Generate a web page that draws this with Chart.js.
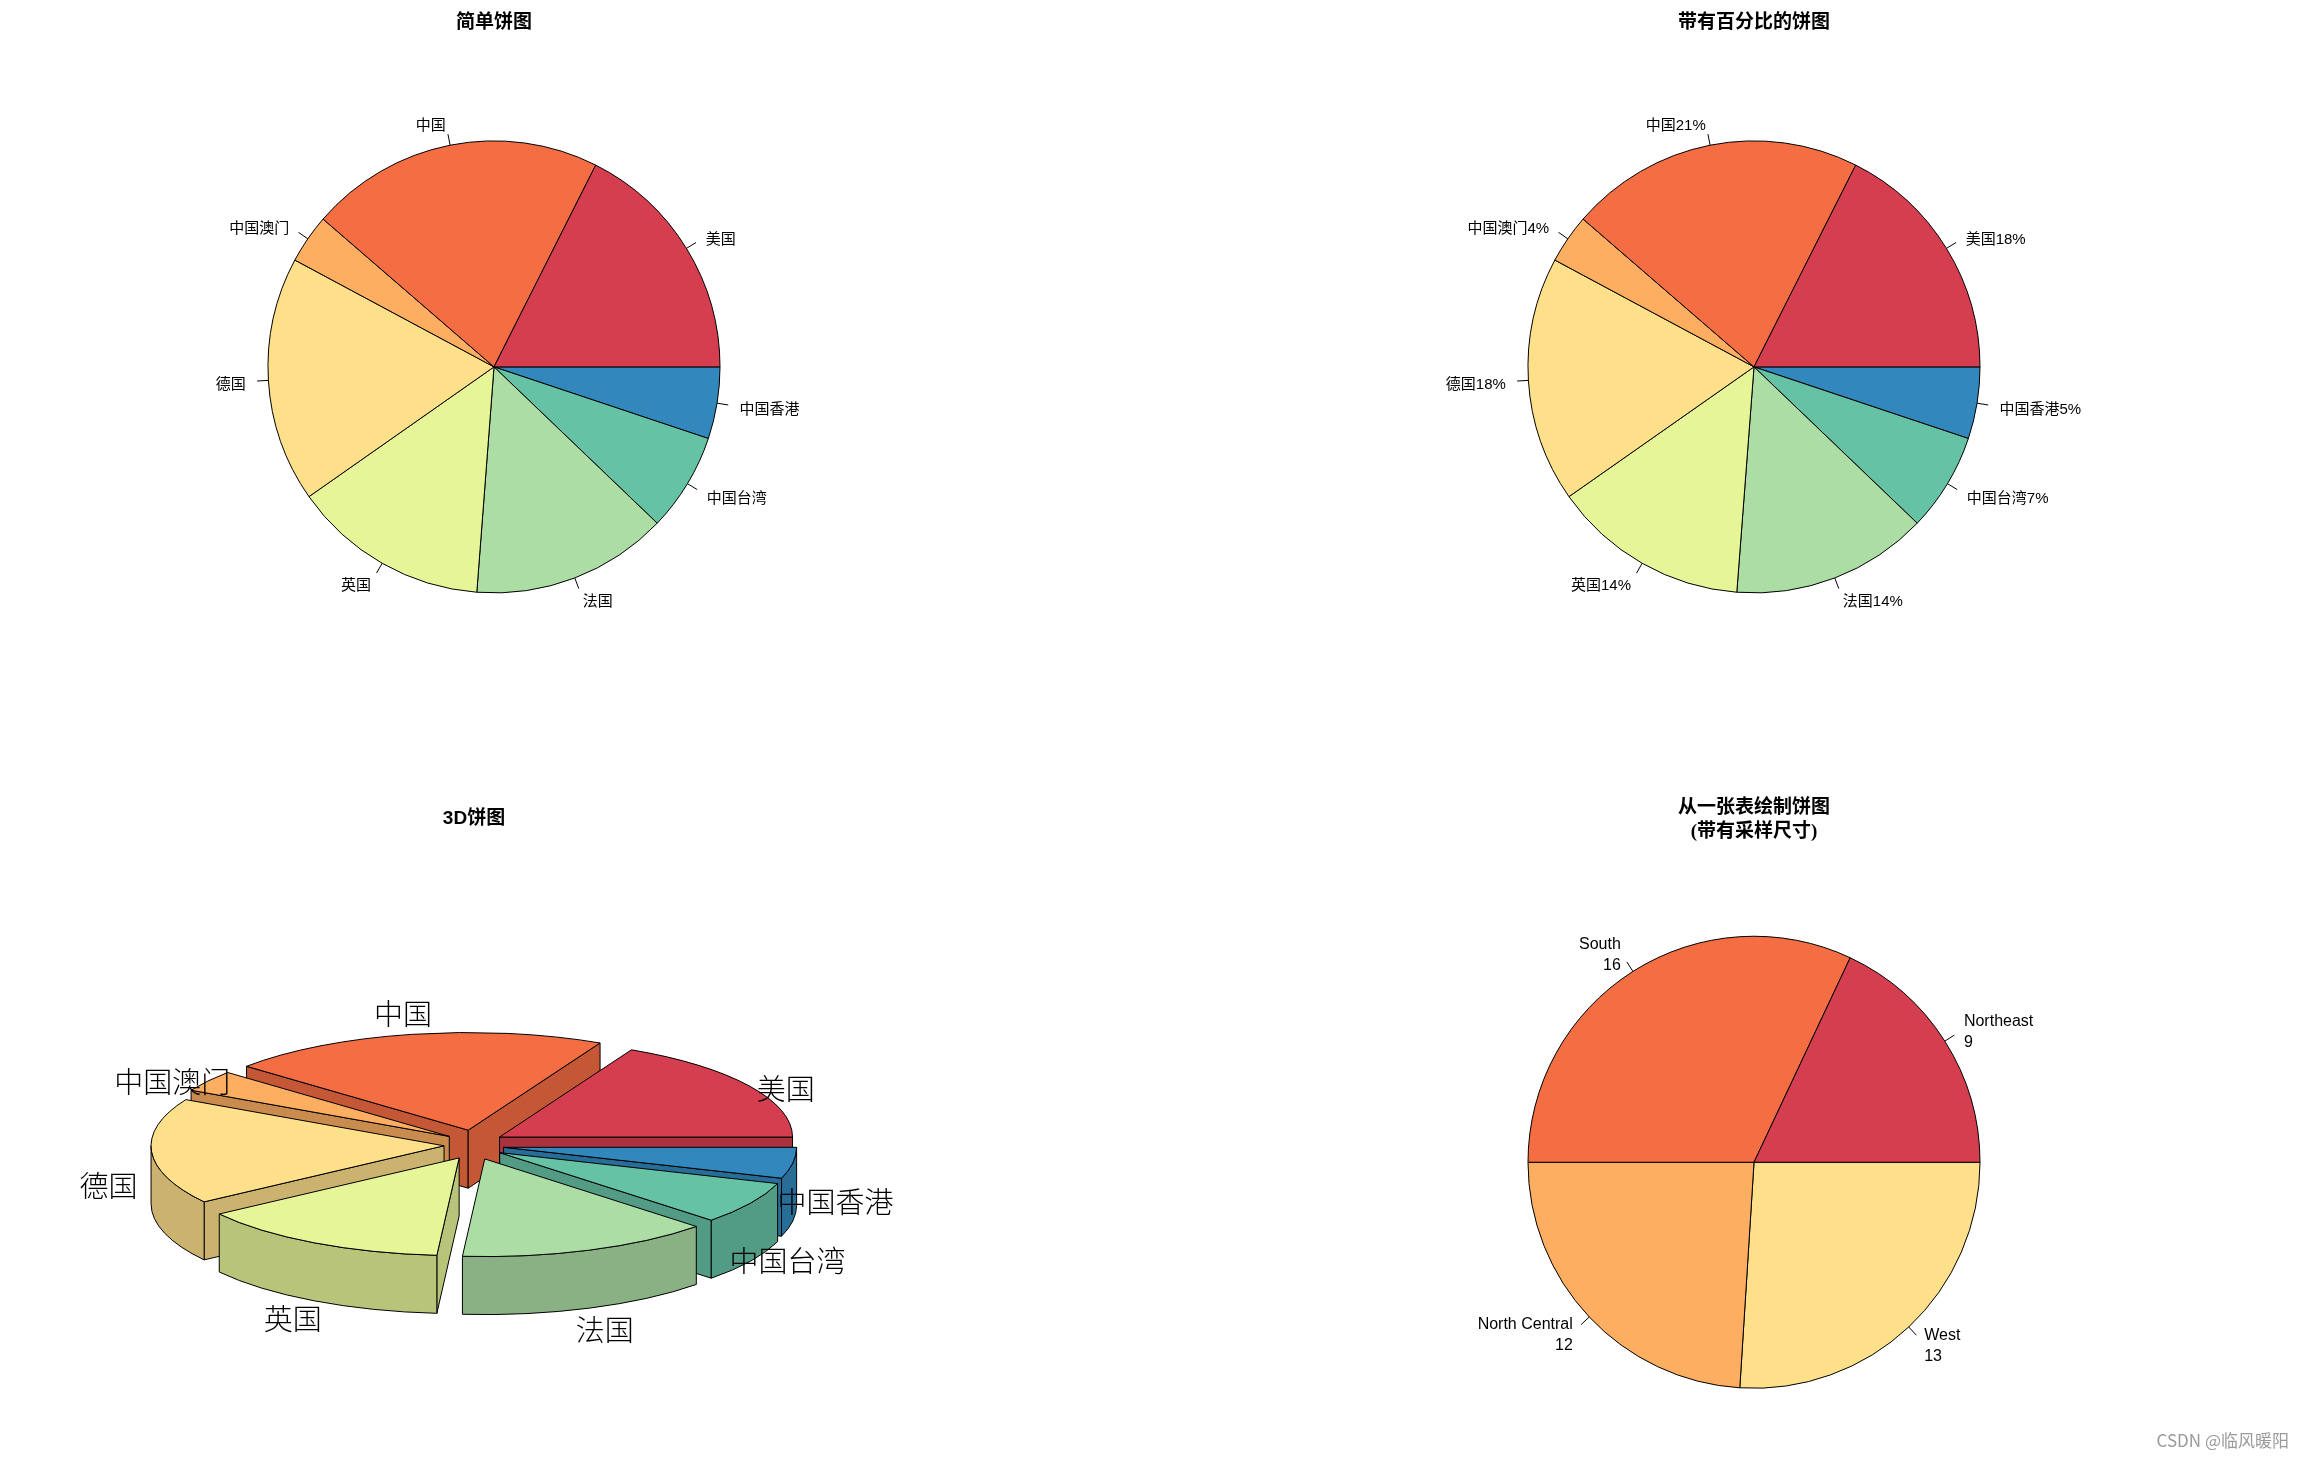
<!DOCTYPE html>
<html>
<head>
<meta charset="utf-8">
<script src="https://cdn.jsdelivr.net/npm/chart.js@4.4.1/dist/chart.umd.min.js"></script>
<style>
  html, body { margin: 0; padding: 0; background: #fff; }
  body { width: 2304px; height: 1458px; position: relative; overflow: hidden; }
  .box { position: absolute; }
  #mark { position: absolute; right: 15px; top: 1427px; font: 17px 'Noto Sans CJK SC', sans-serif; color: #9a9a9a; }
</style>
</head>
<body>
<div class="box" id="box1"><canvas id="simplePie"></canvas></div>
<div class="box" id="box2"><canvas id="percentPie"></canvas></div>
<div class="box" id="box3"><canvas id="pie3D"></canvas></div>
<div class="box" id="box4"><canvas id="tablePie"></canvas></div>
<div id="mark">CSDN @临风暖阳</div>
<script>
// data
const countries = ['美国', '中国', '中国澳门', '德国', '英国', '法国', '中国台湾', '中国香港'];
const shares = [25, 30, 5, 25, 20, 20, 10, 7.3];
const regions = ['Northeast', 'South', 'North Central', 'West'];
const regionCounts = [9, 16, 12, 13];
const spectral = ['#D53E4F', '#F46D43', '#FDAE61', '#FEE08B', '#E6F598', '#ABDDA4', '#66C2A5', '#3288BD'];

// R draws pies counter-clockwise from 3 o'clock, Chart.js clockwise -> reverse
const rev = a => a.slice().reverse();
const total = shares.reduce((a, b) => a + b, 0);
const pctLabels = countries.map((c, i) => c + Math.round(100 * shares[i] / total) + '%');
const regionLabels = regions.map((r, i) => r + '\n' + regionCounts[i]);

Chart.defaults.animation = false;
Chart.defaults.events = [];
Chart.defaults.font.family = "'Liberation Sans', 'Noto Sans CJK SC', sans-serif";
Chart.defaults.plugins.legend.display = false;
Chart.defaults.plugins.tooltip.enabled = false;

const titleFont = { size: 19, weight: 'bold', family: "'Liberation Serif', 'Noto Sans CJK SC', serif" };

// size a chart box so that the pie lands on (cx, cy) under its title
function place(id, cx, cy, top, padTop, block, padBottom, w) {
  const areaTop = top + padTop + block + padBottom;
  const h = Math.round(2 * cy - areaTop - top);
  const box = document.getElementById(id);
  box.style.left = Math.round(cx - w / 2) + 'px';
  box.style.top = top + 'px';
  box.style.width = w + 'px';
  box.style.height = h + 'px';
}
place('box1', 494, 367, 0, 12, 22.8, 7, 900);
place('box2', 1754, 367, 0, 12, 22.8, 7, 900);
place('box3', 474, 1145, 729, 78, 22.8, 7, 900);
place('box4', 1754, 1162, 729, 67, 47.5, 37, 900);

// labels outside the pie with small ticks, like graphics::pie
const pieLabels = {
  id: 'pieLabels',
  afterDatasetsDraw(chart, args, opts) {
    const ctx = chart.ctx;
    const arcs = chart.getDatasetMeta(0).data;
    const texts = chart.data.labels;
    ctx.save();
    ctx.strokeStyle = '#000';
    ctx.lineWidth = 1;
    ctx.fillStyle = '#000';
    ctx.font = opts.size + "px 'Liberation Sans', 'Noto Sans CJK SC', sans-serif";
    ctx.textBaseline = 'middle';
    arcs.forEach((arc, i) => {
      const mid = (arc.startAngle + arc.endAngle) / 2;
      const c = Math.cos(mid), s = Math.sin(mid), r = arc.outerRadius;
      ctx.beginPath();
      ctx.moveTo(arc.x + r * c, arc.y + r * s);
      ctx.lineTo(arc.x + 1.05 * r * c, arc.y + 1.05 * r * s);
      ctx.stroke();
      const lines = String(texts[i]).split('\n');
      const lh = opts.size * 1.3;
      ctx.textAlign = c < 0 ? 'right' : 'left';
      lines.forEach((t, j) => {
        ctx.fillText(t, arc.x + 1.1 * r * c, arc.y + 1.1 * r * s + 3 + (j - (lines.length - 1) / 2) * lh);
      });
    });
    ctx.restore();
  }
};

function darken(hex, f) {
  const n = parseInt(hex.slice(1), 16);
  const ch = v => Math.round(v * f);
  return 'rgb(' + ch(n >> 16) + ',' + ch((n >> 8) & 255) + ',' + ch(n & 255) + ')';
}

// exploded 3D pie: side walls first (back to front), then the squashed tops
const pie3d = {
  id: 'pie3d',
  beforeDatasetDraw(chart, args, opts) {
    const ctx = chart.ctx;
    const k = opts.tilt, h = opts.depth;
    const parts = args.meta.data.map(arc => {
      const mid = (arc.startAngle + arc.endAngle) / 2;
      return { arc, mid, dx: opts.explodeX * Math.cos(mid), dy: opts.explodeY * Math.sin(mid) };
    });
    ctx.save();
    ctx.lineWidth = 1;
    ctx.strokeStyle = '#000';
    parts.slice().sort((p, q) => Math.sin(p.mid) - Math.sin(q.mid)).forEach(p => {
      const arc = p.arc;
      const x = arc.x + p.dx, y = arc.y + p.dy, r = arc.outerRadius;
      ctx.fillStyle = darken(arc.options.backgroundColor, opts.shade);
      const wall = a => {
        ctx.beginPath();
        ctx.moveTo(x, y);
        ctx.lineTo(x + r * Math.cos(a), y + k * r * Math.sin(a));
        ctx.lineTo(x + r * Math.cos(a), y + k * r * Math.sin(a) + h);
        ctx.lineTo(x, y + h);
        ctx.closePath();
        ctx.fill();
        ctx.stroke();
      };
      if (Math.cos(arc.startAngle) < 0) wall(arc.startAngle);
      if (Math.cos(arc.endAngle) > 0) wall(arc.endAngle);
      const a0 = Math.max(arc.startAngle, 0), a1 = Math.min(arc.endAngle, Math.PI);
      if (a1 > a0) {
        ctx.beginPath();
        ctx.ellipse(x, y, r, k * r, 0, a0, a1);
        ctx.ellipse(x, y + h, r, k * r, 0, a1, a0, true);
        ctx.closePath();
        ctx.fill();
        ctx.stroke();
      }
    });
    parts.forEach(p => {
      const arc = p.arc;
      const x = arc.x + p.dx, y = arc.y + p.dy, r = arc.outerRadius;
      ctx.save();
      ctx.translate(x, y);
      ctx.scale(1, k);
      ctx.translate(-arc.x, -arc.y);
      arc.draw(ctx);
      ctx.restore();
      ctx.beginPath();
      ctx.moveTo(x, y);
      ctx.ellipse(x, y, r, k * r, 0, arc.startAngle, arc.endAngle);
      ctx.closePath();
      ctx.stroke();
    });
    ctx.restore();
    return false;
  },
  afterDatasetsDraw(chart, args, opts) {
    const ctx = chart.ctx;
    const texts = chart.data.labels;
    ctx.save();
    ctx.fillStyle = '#000';
    ctx.font = "300 29px 'Noto Sans CJK SC', sans-serif";
    ctx.textAlign = 'center';
    ctx.textBaseline = 'middle';
    chart.getDatasetMeta(0).data.forEach((arc, i) => {
      const mid = (arc.startAngle + arc.endAngle) / 2;
      const r = arc.outerRadius;
      ctx.fillText(texts[i], arc.x + 1.25 * r * Math.cos(mid), arc.y + opts.depth / 2 + 2 + 0.563 * r * Math.sin(mid));
    });
    ctx.restore();
  }
};

function flatPie(id, labels, values, title, labelSize) {
  const twoLines = Array.isArray(title);
  return new Chart(document.getElementById(id), {
    type: 'pie',
    data: {
      labels: rev(labels),
      datasets: [{
        data: rev(values),
        backgroundColor: rev(spectral.slice(0, values.length)),
        borderColor: '#000',
        borderWidth: 1
      }]
    },
    options: {
      responsive: true,
      maintainAspectRatio: false,
      rotation: 90,
      radius: 226,
      plugins: {
        title: { display: true, text: title, color: '#000', font: { ...titleFont, lineHeight: twoLines ? 1.25 : 1.2 },
                 padding: twoLines ? { top: 67, bottom: 37 } : { top: 12, bottom: 7 } },
        pieLabels: { size: labelSize }
      }
    },
    plugins: [pieLabels]
  });
}

flatPie('simplePie', countries, shares, '简单饼图', 15);
flatPie('percentPie', pctLabels, shares, '带有百分比的饼图', 15);
flatPie('tablePie', regionLabels, regionCounts, ['从一张表绘制饼图', '(带有采样尺寸)'], 16);

new Chart(document.getElementById('pie3D'), {
  type: 'pie',
  data: {
    labels: rev(countries),
    datasets: [{
      data: rev(shares),
      backgroundColor: rev(spectral),
      borderWidth: 0
    }]
  },
  options: {
    responsive: true,
    maintainAspectRatio: false,
    rotation: 90,
    radius: 293,
    plugins: {
      title: { display: true, text: '3D饼图', color: '#000',
               font: { size: 19, weight: 'bold', family: "'Liberation Sans Narrow', 'Liberation Sans', 'Noto Sans CJK SC', sans-serif", lineHeight: 1.2 },
               padding: { top: 78, bottom: 7 } },
      pie3d: { tilt: 1 / 3, depth: 58, explodeX: 30, explodeY: 15, shade: 0.8 }
    }
  },
  plugins: [pie3d]
});
</script>
</body>
</html>
